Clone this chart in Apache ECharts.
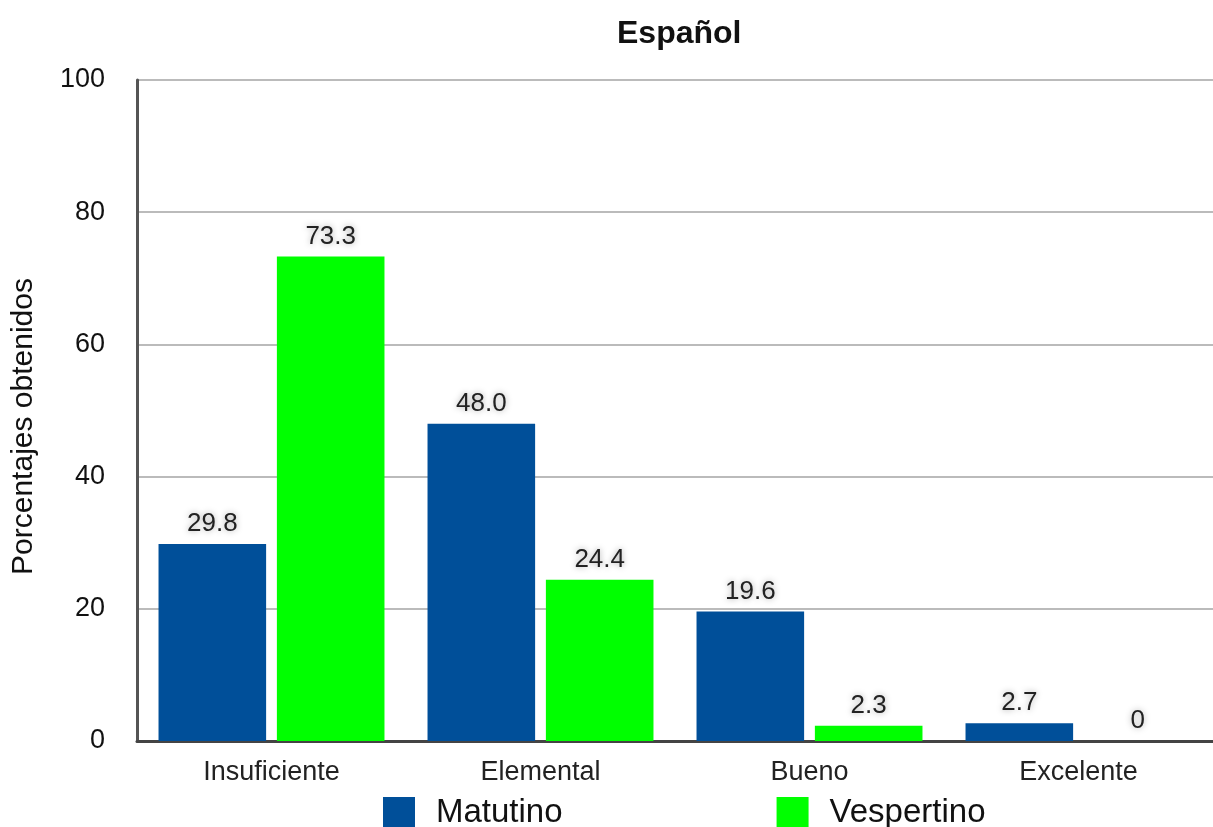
<!DOCTYPE html>
<html>
<head>
<meta charset="utf-8">
<script src="https://cdn.jsdelivr.net/npm/echarts@6/dist/echarts.min.js"></script>
<style>
  html, body { margin: 0; padding: 0; background: #fff; }
  #chart { width: 1213px; height: 827px; }
</style>
</head>
<body>
<div id="chart"></div>
<script>
// niveles de logro
const categories = ['Insuficiente', 'Elemental', 'Bueno', 'Excelente'];
const matutino = [29.8, 48.0, 19.6, 2.7];
const vespertino = [73.3, 24.4, 2.3, 0];
const seriesNames = ['Matutino', 'Vespertino'];

const FONT = 'Liberation Sans, Arial, sans-serif';
const chart = echarts.init(document.getElementById('chart'));

const labelStyle = {
    show: true,
    position: 'top',
    distance: 7,
    color: '#222',
    fontSize: 26,
    fontFamily: FONT,
    textShadowColor: 'rgba(0,0,0,0.35)',
    textShadowBlur: 6,
    formatter: (p) => p.value === 0 ? '0' : p.value.toFixed(1)
};

const option = {
    animation: false,
    title: {
        text: 'Español',
        left: 612,
        top: 13,
        textStyle: { fontSize: 32, fontWeight: 'bold', color: '#111', fontFamily: FONT }
    },
    legend: {
        data: seriesNames,
        left: 378,
        top: 791,
        itemWidth: 32,
        itemHeight: 31,
        itemGap: 214,
        icon: 'rect',
        textStyle: { fontSize: 33, color: '#111', padding: [0, 0, 0, 16], fontFamily: FONT }
    },
    grid: { left: 137, width: 1086, top: 80, bottom: 86 },
    xAxis: {
        type: 'category',
        data: categories,
        axisTick: { show: false },
        axisLine: { lineStyle: { color: '#444', width: 3 } },
        axisLabel: { fontSize: 27, color: '#222', margin: 18, fontFamily: FONT }
    },
    yAxis: {
        type: 'value',
        min: 0,
        max: 100,
        interval: 20,
        name: 'Porcentajes obtenidos',
        nameLocation: 'middle',
        nameGap: 98,
        nameTextStyle: { fontSize: 30, color: '#111', fontFamily: FONT, padding: [0, 32, 0, 0] },
        axisLine: { show: true, lineStyle: { color: '#555', width: 3 } },
        axisTick: { show: false },
        axisLabel: { fontSize: 27, color: '#111', margin: 32, fontFamily: FONT },
        splitLine: { lineStyle: { color: '#bbb', width: 2 } }
    },
    series: [
        {
            name: seriesNames[0],
            type: 'bar',
            data: matutino,
            barGap: '10%',
            barCategoryGap: '16%',
            itemStyle: { color: '#004f99' },
            label: labelStyle
        },
        {
            name: seriesNames[1],
            type: 'bar',
            data: vespertino,
            itemStyle: { color: '#00ff00' },
            label: labelStyle
        }
    ]
};

chart.setOption(option);
</script>
</body>
</html>
